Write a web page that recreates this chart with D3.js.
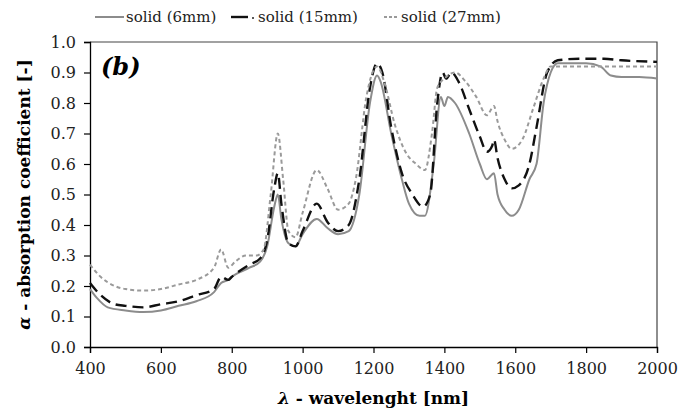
<!DOCTYPE html>
<html>
<head>
<meta charset="utf-8">
<script src="https://cdn.jsdelivr.net/npm/d3@7"></script>
<style>
  body { margin: 0; background: #fff; }
</style>
</head>
<body>
<div id="chart"></div>
<script>
// wavelength [nm] / absorption coefficient pairs
const wl6 = [400,420,450,500,550,600,650,700,750,770,790,800,850,880,900,920,930,940,960,980,1000,1040,1070,1100,1130,1160,1190,1210,1220,1250,1280,1300,1330,1345,1370,1390,1400,1410,1430,1470,1500,1520,1540,1550,1570,1590,1610,1640,1660,1680,1700,1720,1800,1840,1870,1900,1950,2000];
const a6  = [0.19,0.16,0.13,0.12,0.115,0.12,0.135,0.15,0.18,0.21,0.22,0.23,0.26,0.28,0.33,0.46,0.50,0.42,0.34,0.33,0.37,0.42,0.39,0.37,0.38,0.50,0.80,0.89,0.87,0.70,0.55,0.47,0.43,0.43,0.60,0.82,0.79,0.82,0.80,0.70,0.60,0.55,0.57,0.50,0.45,0.43,0.45,0.55,0.60,0.80,0.90,0.93,0.93,0.92,0.89,0.885,0.885,0.88];

const wl15 = [400,430,470,500,550,600,650,700,750,770,790,800,850,880,900,920,930,940,960,980,1000,1040,1070,1100,1130,1160,1190,1210,1225,1250,1280,1310,1340,1360,1380,1395,1405,1420,1440,1470,1500,1520,1535,1540,1550,1570,1590,1610,1640,1660,1690,1720,1780,1850,1900,2000];
const a15  = [0.21,0.17,0.14,0.135,0.13,0.14,0.15,0.17,0.19,0.23,0.22,0.23,0.27,0.29,0.35,0.52,0.57,0.47,0.34,0.33,0.38,0.47,0.41,0.38,0.40,0.55,0.85,0.93,0.90,0.72,0.57,0.50,0.46,0.50,0.80,0.90,0.88,0.90,0.87,0.78,0.69,0.64,0.66,0.68,0.62,0.55,0.52,0.53,0.60,0.72,0.90,0.94,0.945,0.945,0.94,0.935];

const wl27 = [400,430,470,500,550,600,650,700,750,770,790,810,840,870,890,910,930,945,960,980,1000,1040,1070,1100,1130,1150,1180,1210,1230,1260,1290,1320,1345,1365,1380,1400,1430,1460,1490,1520,1540,1550,1570,1590,1620,1650,1680,1700,1750,1850,2000];
const a27  = [0.27,0.23,0.20,0.19,0.185,0.19,0.205,0.22,0.26,0.32,0.26,0.28,0.30,0.30,0.32,0.50,0.70,0.55,0.38,0.36,0.44,0.58,0.52,0.45,0.47,0.55,0.82,0.92,0.87,0.73,0.64,0.60,0.58,0.70,0.85,0.88,0.90,0.87,0.82,0.76,0.79,0.74,0.68,0.65,0.68,0.78,0.88,0.92,0.92,0.92,0.92];

const xTicks = [400,600,800,1000,1200,1400,1600,1800,2000];
const yTicks = [0,0.1,0.2,0.3,0.4,0.5,0.6,0.7,0.8,0.9,1.0];

const series = [
  { name: "solid (6mm)", x: wl6, y: a6, color: "#8c8c8c", width: 2, dash: null },
  { name: "solid (15mm)", x: wl15, y: a15, color: "#111", width: 2.4, dash: "11,6" },
  { name: "solid (27mm)", x: wl27, y: a27, color: "#9a9a9a", width: 2, dash: "4,3" }
];

const W = 681, H = 413;
const margin = { top: 42, right: 24, bottom: 66, left: 90 };
const width = W - margin.left - margin.right;
const height = H - margin.top - margin.bottom;
const serif = "DejaVu Serif";

const svg = d3.select("#chart").append("svg")
  .attr("width", W).attr("height", H)
  .style("font-family", serif);

const g = svg.append("g")
  .attr("transform", `translate(${margin.left},${margin.top})`);

const x = d3.scaleLinear().domain([400, 2000]).range([0, width]);
const y = d3.scaleLinear().domain([0, 1]).range([height, 0]);

// frame (top + right)
g.append("path")
  .attr("d", `M0,0H${width}V${height}`)
  .attr("fill", "none").attr("stroke", "#444").attr("stroke-width", 1.2);

// axes
const xAxis = g.append("g")
  .attr("transform", `translate(0,${height})`)
  .call(d3.axisBottom(x).tickValues(xTicks).tickSize(6).tickPadding(10).tickFormat(d3.format("d")));
const yAxis = g.append("g")
  .call(d3.axisLeft(y).tickValues(yTicks).tickSize(6).tickPadding(8).tickFormat(d3.format(".1f")));

[xAxis, yAxis].forEach(a => {
  a.attr("font-family", null).style("font-family", serif);
  a.select(".domain").attr("stroke", "#000").attr("stroke-width", 1.3);
  a.selectAll(".tick line").attr("stroke", "#000").attr("stroke-width", 1.2);
  a.selectAll("text").attr("font-size", 16).attr("fill", "#222");
});

// curves
const line = d3.line()
  .x(d => x(d[0])).y(d => y(d[1]))
  .curve(d3.curveMonotoneX);

series.forEach(s => {
  g.append("path")
    .datum(s.x.map((v, i) => [v, s.y[i]]))
    .attr("fill", "none")
    .attr("stroke", s.color)
    .attr("stroke-width", s.width)
    .attr("stroke-dasharray", s.dash)
    .attr("stroke-linejoin", "round")
    .attr("d", line);
});

// panel tag
g.append("text")
  .attr("x", 11).attr("y", 33)
  .attr("font-size", 24).attr("font-weight", "bold").attr("font-style", "italic")
  .text("(b)");

// axis titles
const xt = svg.append("text")
  .attr("x", margin.left + width / 2).attr("y", 404)
  .attr("text-anchor", "middle").attr("font-size", 17).attr("font-weight", "bold");
xt.append("tspan").attr("font-style", "italic").text("λ");
xt.append("tspan").text(" - wavelenght [nm]");

const yt = svg.append("text")
  .attr("transform", `translate(30,${margin.top + height / 2}) rotate(-90)`)
  .attr("text-anchor", "middle").attr("font-size", 17).attr("font-weight", "bold");
yt.append("tspan").attr("font-style", "italic").text("α");
yt.append("tspan").text(" - absorption coefficient [-]");

// legend
const legend = svg.append("g").attr("transform", "translate(0,17)");
const legendItems = [
  { x0: 95, x1: 124, tx: 126, s: series[0] },
  { x0: 231, x1: 248, tx: 258, s: series[1] },
  { x0: 384, x1: 399, tx: 401, s: series[2] }
];
legendItems.forEach(it => {
  legend.append("line")
    .attr("x1", it.x0).attr("x2", it.x1).attr("y1", 0).attr("y2", 0)
    .attr("stroke", it.s.color).attr("stroke-width", it.s.width)
    .attr("stroke-dasharray", it.s.dash === "4,3" ? "3,2" : null);
  legend.append("text")
    .attr("x", it.tx).attr("y", 5)
    .attr("font-size", 15).attr("fill", "#222")
    .text(it.s.name);
});
legend.append("circle").attr("cx", 253).attr("cy", 1).attr("r", 1).attr("fill", "#222");
</script>
</body>
</html>
